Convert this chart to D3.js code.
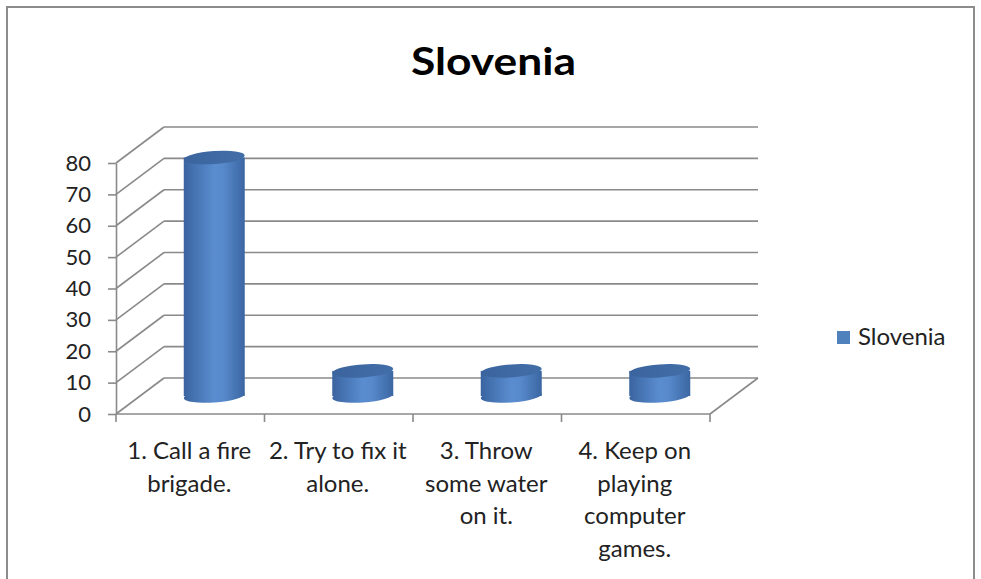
<!DOCTYPE html>
<html>
<head>
<meta charset="utf-8">
<script src="https://cdn.jsdelivr.net/npm/d3@7"></script>
<style>
  body { margin: 0; background: #fff; }
  text { font-family: Lato, "Open Sans", sans-serif; fill: #222; }
</style>
</head>
<body>
<div id="chart"></div>
<script>
// data
var categories = ["1. Call a fire brigade.", "2. Try to fix it alone.", "3. Throw some water on it.", "4. Keep on playing computer games."];
var labelLines = [["1. Call a fire", "brigade."], ["2. Try to fix it", "alone."], ["3. Throw", "some water", "on it."], ["4. Keep on", "playing", "computer", "games."]];
var values = [76, 8, 8, 8];
var yTicks = [0, 10, 20, 30, 40, 50, 60, 70, 80];
var seriesName = "Slovenia";

var W = 981, H = 579;
var dx = 48, dy = -36;   // depth offset of the back wall
var gridColor = "#8a8a8a";

var svg = d3.select("#chart").append("svg")
  .attr("width", W).attr("height", H);

// outer frame
svg.append("rect")
  .attr("x", 7).attr("y", 7).attr("width", 967).attr("height", 620)
  .attr("fill", "#fff").attr("stroke", "#8c8c8c").attr("stroke-width", 2);

// title
svg.append("text")
  .attr("x", 411).attr("y", 75)
  .attr("textLength", 165).attr("lengthAdjust", "spacingAndGlyphs")
  .style("font-size", "38px").style("font-weight", "bold")
  .style("fill", "#000")
  .text("Slovenia");

// scales
var x = d3.scaleBand().domain(categories).range([116, 710]).padding(0);
var y = d3.scaleLinear().domain([0, 80]).range([414, 163]);
var x0 = x.range()[0], x1 = x.range()[1];

// gradient for cylinders
var defs = svg.append("defs");
var grad = defs.append("linearGradient").attr("id", "cyl")
  .attr("x1", "0%").attr("x2", "100%").attr("y1", "0%").attr("y2", "0%");
grad.append("stop").attr("offset", "0%").attr("stop-color", "#3a64a0");
grad.append("stop").attr("offset", "50%").attr("stop-color", "#5a8dd0");
grad.append("stop").attr("offset", "65%").attr("stop-color", "#5789cb");
grad.append("stop").attr("offset", "100%").attr("stop-color", "#3b66a2");
var topGrad = defs.append("linearGradient").attr("id", "cyltop")
  .attr("x1", "0%").attr("x2", "100%").attr("y1", "0%").attr("y2", "0%");
topGrad.append("stop").attr("offset", "0%").attr("stop-color", "#3b649d");
topGrad.append("stop").attr("offset", "100%").attr("stop-color", "#426ea8");

var walls = svg.append("g")
  .attr("stroke", gridColor).attr("stroke-width", 1.6).attr("fill", "none");

// left wall diagonals
walls.selectAll(".diag").data(yTicks).enter().append("line")
  .attr("x1", x0).attr("y1", function(d) { return y(d); })
  .attr("x2", x0 + dx).attr("y2", function(d) { return y(d) + dy; });

// back wall gridlines
walls.selectAll(".grid").data(yTicks).enter().append("line")
  .attr("x1", x0 + dx).attr("y1", function(d) { return y(d) + dy; })
  .attr("x2", x1 + dx).attr("y2", function(d) { return y(d) + dy; });

// floor right edge
walls.append("line")
  .attr("x1", x1).attr("y1", y(0))
  .attr("x2", x1 + dx).attr("y2", y(0) + dy);

// y axis
var yAxis = svg.append("g")
  .attr("transform", "translate(" + x0 + ",0)")
  .call(d3.axisLeft(y).tickValues(yTicks).tickSize(8).tickSizeOuter(0).tickPadding(17));
yAxis.select(".domain").attr("stroke", gridColor).attr("stroke-width", 1.6);
yAxis.selectAll(".tick line").attr("stroke", gridColor).attr("stroke-width", 1.6);
yAxis.selectAll(".tick text")
  .style("font-size", "22px").style("font-family", "Lato, sans-serif").attr("fill", "#222");

// x axis (front floor edge)
var xg = svg.append("g").attr("stroke", gridColor).attr("stroke-width", 1.6);
xg.append("line").attr("x1", x0).attr("x2", x1).attr("y1", y(0)).attr("y2", y(0));
var bounds = categories.map(function(c) { return x(c); }).concat([x1]);
xg.selectAll(".xt").data(bounds).enter().append("line")
  .attr("x1", function(d) { return d; }).attr("x2", function(d) { return d; })
  .attr("y1", y(0)).attr("y2", y(0) + 8);

// x labels
var lab = svg.append("g");
categories.forEach(function(c, i) {
  var t = lab.append("text")
    .attr("x", x(c) + x.bandwidth() / 2 - 1)
    .attr("y", 459)
    .attr("text-anchor", "middle")
    .style("font-size", "24px");
  labelLines[i].forEach(function(line, j) {
    t.append("tspan")
      .attr("x", x(c) + x.bandwidth() / 2 - 1)
      .attr("dy", j === 0 ? 0 : 32.5)
      .text(line);
  });
});

// cylinders
var rx = 30.5, ry = 6.5, tilt = -4;
var bars = svg.selectAll(".bar").data(values).enter().append("g")
  .attr("class", "bar");
bars.each(function(v, i) {
  var g = d3.select(this);
  var cx = x(categories[i]) + x.bandwidth() / 2 + dx / 2;
  var yb = y(0) + dy / 2;
  var yt = y(v) + dy / 2;
  g.append("ellipse")
    .attr("cx", cx).attr("cy", yb).attr("rx", rx).attr("ry", ry)
    .attr("transform", "rotate(" + tilt + "," + cx + "," + yb + ")")
    .attr("fill", "url(#cyl)");
  g.append("rect")
    .attr("x", cx - rx).attr("y", yt).attr("width", rx * 2).attr("height", yb - yt)
    .attr("fill", "url(#cyl)");
  g.append("ellipse")
    .attr("cx", cx).attr("cy", yt).attr("rx", rx).attr("ry", ry)
    .attr("transform", "rotate(" + tilt + "," + cx + "," + yt + ")")
    .attr("fill", "url(#cyltop)");
});

// legend
svg.append("rect")
  .attr("x", 837).attr("y", 331).attr("width", 13).attr("height", 13)
  .attr("fill", "#4f81bd");
svg.append("text")
  .attr("x", 858).attr("y", 345)
  .style("font-size", "24px")
  .text(seriesName);
</script>
</body>
</html>
